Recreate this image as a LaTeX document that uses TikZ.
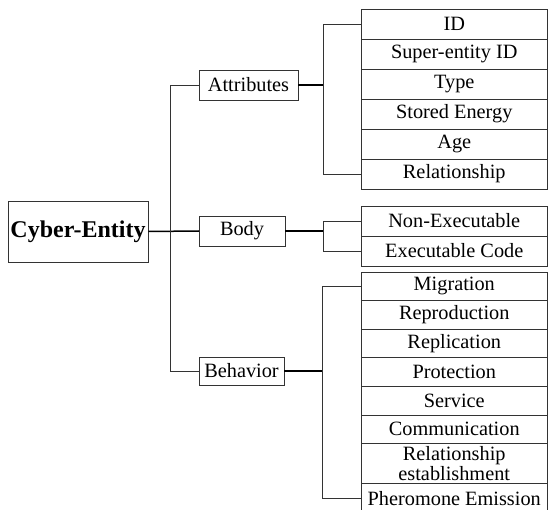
\documentclass[tikz,border=0pt]{standalone}
\usepackage{fontspec}
\setmainfont{Liberation Serif}
\usetikzlibrary{positioning}
\definecolor{linegray}{HTML}{333333}

\begin{document}
\begin{tikzpicture}[x=1pt, y=-1pt,
  item/.style={draw=linegray, line width=0.8pt, minimum width=186.5pt, minimum height=30pt, inner sep=0pt, outer sep=0pt, font=\fontsize{20.3}{20}\selectfont},
  behitem/.style={item, minimum height=28.6pt},
  group/.style={draw=linegray, line width=0.8pt, minimum height=30pt, inner sep=0pt, outer sep=0pt, font=\fontsize{20.3}{20}\selectfont},
  link/.style={linegray, line width=0.8pt},
  thicklink/.style={black, line width=1.5pt}
]
  \useasboundingbox (0,0) rectangle (548,510);

  % root and the three groups
  \node[draw=linegray, line width=0.8pt, minimum width=140pt, minimum height=61pt, inner sep=0pt, font=\fontsize{24}{24}\selectfont\bfseries] (entity) at (78,231.5) {Cyber-Entity};
  \node[group, minimum width=99pt] (attributes) at (248.5,85) {Attributes};
  \node[group, minimum width=86pt] (body) at (242,231) {Body};
  \node[group, minimum width=85pt, minimum height=28pt] (behavior) at (241.5,371) {Behavior};

  % attributes
  \node[item] (id) at (454.25,24) {ID};
  \node[item, below=0pt of id] (superid) {Super-entity ID};
  \node[item, below=0pt of superid] (type) {Type};
  \node[item, below=0pt of type] (energy) {Stored Energy};
  \node[item, below=0pt of energy] (age) {Age};
  \node[item, below=0pt of age] (relation) {Relationship};

  % body
  \node[item] (nonexec) at (454.25,221) {Non-Executable};
  \node[item, below=0pt of nonexec] (exec) {Executable Code};

  % behavior
  \node[behitem] (migration) at (454.25,286.3) {Migration};
  \node[behitem, below=0pt of migration] (reproduction) {Reproduction};
  \node[behitem, below=0pt of reproduction] (replication) {Replication};
  \node[behitem, below=0pt of replication] (protection) {Protection};
  \node[behitem, below=0pt of protection] (service) {Service};
  \node[behitem, below=0pt of service] (communication) {Communication};
  \node[behitem, minimum height=40pt, align=center, font=\fontsize{20.3}{16.5}\selectfont, below=0pt of communication] (establish) {Relationship\\establishment};
  \node[behitem, minimum height=30pt, below=0pt of establish] (pheromone) {Pheromone Emission};

  % trunk from the root
  \draw[thicklink] (entity.east) -- (body.west);
  \draw[link] (attributes.west) -- ++(-29,0) coordinate (trunk) -- (trunk |- behavior.west) -- (behavior.west);

  % brackets
  \draw[thicklink] (attributes.east) -- ++(25,0) coordinate (abr);
  \draw[link] (id.west) -- (id.west -| abr) -- (relation.west -| abr) -- (relation.west);
  \draw[thicklink] (body.east) -- ++(38,0) coordinate (bbr);
  \draw[link] (nonexec.west) -- (nonexec.west -| bbr) -- (exec.west -| bbr) -- (exec.west);
  \draw[thicklink] (behavior.east) -- ++(38,0) coordinate (hbr);
  \draw[link] (migration.west) -- (migration.west -| hbr) -- (pheromone.west -| hbr) -- (pheromone.west);
\end{tikzpicture}
\end{document}
